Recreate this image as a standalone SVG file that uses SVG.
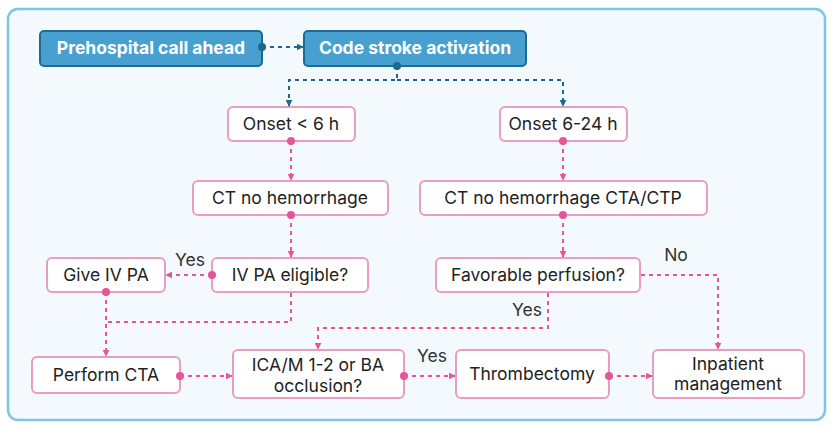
<svg xmlns="http://www.w3.org/2000/svg" width="833" height="429" viewBox="0 0 833 429">
<defs>
<marker id="ap" viewBox="0 0 10 10" refX="9" refY="5" markerWidth="7" markerHeight="7" orient="auto-start-reverse" markerUnits="userSpaceOnUse"><path d="M0,0 L10,5 L0,10 z" fill="#e4559a"/></marker>
<marker id="ab" viewBox="0 0 10 10" refX="9" refY="5" markerWidth="7" markerHeight="7" orient="auto-start-reverse" markerUnits="userSpaceOnUse"><path d="M0,0 L10,5 L0,10 z" fill="#1b6a8e"/></marker>
<marker id="dp" viewBox="0 0 10 10" refX="5" refY="5" markerWidth="8" markerHeight="8" markerUnits="userSpaceOnUse"><circle cx="5" cy="5" r="5" fill="#e4559a"/></marker>
<marker id="db" viewBox="0 0 10 10" refX="5" refY="5" markerWidth="8" markerHeight="8" markerUnits="userSpaceOnUse"><circle cx="5" cy="5" r="5" fill="#1b6a8e"/></marker>
</defs>
<style>
text{font-family:Inter,"Liberation Sans",sans-serif;font-size:17.5px;fill:#222;text-anchor:middle}
.b rect{fill:#47a0d0;stroke:#1d6b92;stroke-width:2}
.b text{fill:#fff;font-weight:bold}
.p rect{fill:#fff;stroke:#e99cc4;stroke-width:2}
.cp{fill:none;stroke:#e4559a;stroke-width:2;stroke-dasharray:4 4}
.cb{fill:none;stroke:#1b6a8e;stroke-width:2;stroke-dasharray:4 4}
.lbl{fill:#333}
</style>
<rect x="8" y="9" width="817" height="411" rx="10" fill="#f3f9fd" stroke="#7cc6e6" stroke-width="2.5"/>
<g id="n1" class="b"><rect x="40" y="31" width="222" height="35" rx="4"/><text x="151" y="54">Prehospital call ahead</text></g>
<g id="n2" class="b"><rect x="304" y="31" width="222" height="35" rx="4"/><text x="415" y="54">Code stroke activation</text></g>
<g id="n3" class="p"><rect x="228" y="107" width="127" height="34" rx="5"/><text x="291" y="130">Onset &lt; 6 h</text></g>
<g id="n4" class="p"><rect x="500" y="107" width="127" height="34" rx="5"/><text x="563" y="130">Onset 6-24 h</text></g>
<g id="n5" class="p"><rect x="193" y="181" width="195" height="34" rx="5"/><text x="290" y="204">CT no hemorrhage</text></g>
<g id="n6" class="p"><rect x="420" y="181" width="287" height="34" rx="5"/><text x="563" y="204">CT no hemorrhage CTA/CTP</text></g>
<g id="n7" class="p"><rect x="212" y="258" width="156" height="34" rx="5"/><text x="290" y="281">IV PA eligible?</text></g>
<g id="n8" class="p"><rect x="47" y="258" width="118" height="34" rx="5"/><text x="106" y="281">Give IV PA</text></g>
<g id="n9" class="p"><rect x="436" y="258" width="204" height="34" rx="5"/><text x="538" y="281">Favorable perfusion?</text></g>
<g id="n10" class="p"><rect x="32" y="357" width="148" height="36" rx="5"/><text x="106" y="381">Perform CTA</text></g>
<g id="n11" class="p"><rect x="233" y="350" width="171" height="48" rx="5"/><text x="318" y="371">ICA/M 1-2 or BA</text><text x="318" y="392">occlusion?</text></g>
<g id="n12" class="p"><rect x="456" y="350" width="153" height="48" rx="5"/><text x="532" y="380">Thrombectomy</text></g>
<g id="n13" class="p"><rect x="653" y="350" width="151" height="48" rx="5"/><text x="728" y="370">Inpatient</text><text x="728" y="390">management</text></g>
<g id="connectors">
<path class="cb" d="M262,47 H303" marker-start="url(#db)" marker-end="url(#ab)"/>
<path class="cb" d="M397,66 V80 H289 V106" marker-start="url(#db)" marker-end="url(#ab)"/>
<path class="cb" d="M397,80 H563 V106" marker-end="url(#ab)"/>
<path class="cp" d="M291,141 V180" marker-start="url(#dp)" marker-end="url(#ap)"/>
<path class="cp" d="M563,141 V180" marker-start="url(#dp)" marker-end="url(#ap)"/>
<path class="cp" d="M291,215 V257" marker-start="url(#dp)" marker-end="url(#ap)"/>
<path class="cp" d="M563,215 V257" marker-start="url(#dp)" marker-end="url(#ap)"/>
<path class="cp" d="M212,275 H166" marker-start="url(#dp)" marker-end="url(#ap)"/>
<path class="cp" d="M291,293 V322 H106"/>
<path class="cp" d="M106,292 V356" marker-start="url(#dp)" marker-end="url(#ap)"/>
<path class="cp" d="M548,293 V328 H318 V349" marker-end="url(#ap)"/>
<path class="cp" d="M641,275 H718 V349" marker-end="url(#ap)"/>
<path class="cp" d="M180,376 H232" marker-start="url(#dp)" marker-end="url(#ap)"/>
<path class="cp" d="M404,376 H455" marker-start="url(#dp)" marker-end="url(#ap)"/>
<path class="cp" d="M609,376 H652" marker-start="url(#dp)" marker-end="url(#ap)"/>
<text class="lbl" x="190" y="266">Yes</text>
<text class="lbl" x="527" y="316">Yes</text>
<text class="lbl" x="676" y="261">No</text>
<text class="lbl" x="432" y="362">Yes</text>
</g>
</svg>
